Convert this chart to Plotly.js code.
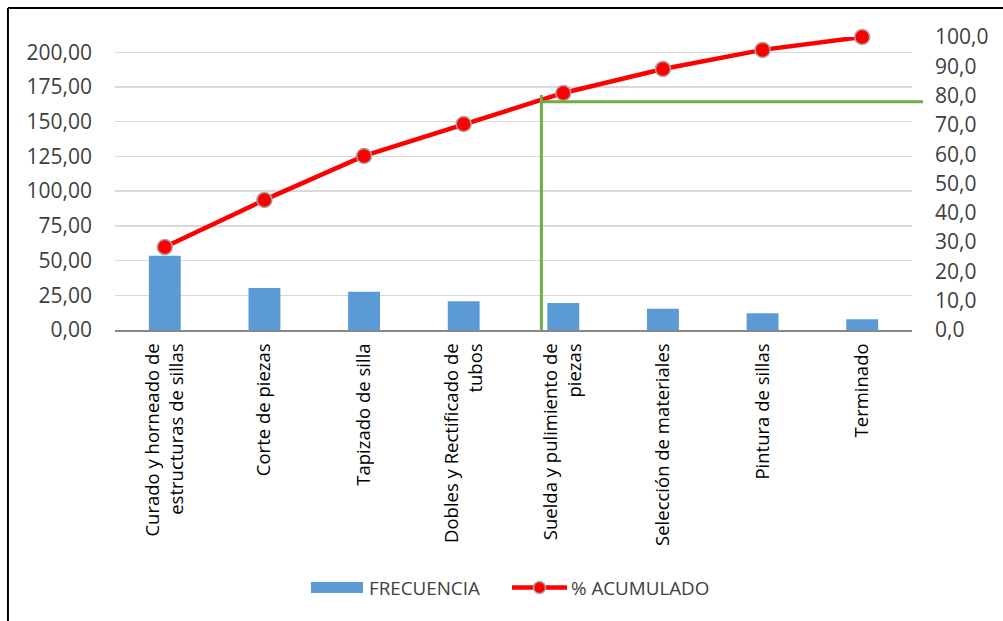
<!DOCTYPE html>
<html><head><meta charset="utf-8">
<script src="https://cdn.plot.ly/plotly-3.0.1.min.js"></script>
<style>html,body{margin:0;padding:0;background:#fff;}#chart{width:1003px;height:621px;}</style>
</head><body><div id="chart"></div>
<script>
const categories = [
  "Curado y horneado de<br>estructuras de sillas",
  "Corte de piezas",
  "Tapizado de silla",
  "Dobles y Rectificado de<br>tubos",
  "Suelda y pulimiento de<br>piezas",
  "Selección de materiales",
  "Pintura de sillas",
  "Terminado"
];
const frecuencia = [53.5, 30.3, 27.6, 20.7, 19.5, 15.3, 12.0, 7.7];
const acumulado = [28.3, 44.4, 59.4, 70.3, 80.9, 89.1, 95.6, 100.0];
const leftTicks = [0, 25, 50, 75, 100, 125, 150, 175, 200];
const leftTickText = ["0,00","25,00","50,00","75,00","100,00","125,00","150,00","175,00","200,00"];
const rightTicks = [0,10,20,30,40,50,60,70,80,90,100];
const rightTickText = ["0,0","10,0","20,0","30,0","40,0","50,0","60,0","70,0","80,0","90,0","100,0"];
const seriesNames = ["FRECUENCIA", "% ACUMULADO"];
const cutoffCategoryPos = 3.78;   // green pareto marker, category units
const cutoffTop = 80.2;
const cutoffLevel = 77.9;

const font = "Open Sans, Liberation Sans, sans-serif";
const blue = "#5b9bd5", red = "#ff0000", green = "#70ad47";
const trBar = {
  type: "bar", name: seriesNames[0], x: categories, y: frecuencia,
  marker: {color: blue}, width: 0.32, yaxis: "y", showlegend: false
};
const trLine = {
  type: "scatter", mode: "lines+markers", name: seriesNames[1], x: categories, y: acumulado,
  line: {color: red, width: 4.5}, cliponaxis: false,
  marker: {color: red, size: 15, line: {color: "#a6a6a6", width: 1.5}},
  yaxis: "y2", showlegend: false
};
// legend geometry (paper coords)
const px = v => (v - 115) / 797;
const py = v => (330 - v) / 293;
const legY = py(587.5);
const layout = {
  width: 1003, height: 621,
  margin: {l: 115, r: 91, t: 37, b: 291},
  paper_bgcolor: "#ffffff", plot_bgcolor: "#ffffff",
  font: {family: font, size: 19, color: "#000000"},
  showlegend: false,
  xaxis: {
    type: "category", tickangle: -90, showgrid: false, zeroline: false,
    showline: true, linecolor: "#888888", linewidth: 2, ticks: "",
    tickfont: {family: font, size: 18.5, color: "#000000"}, range: [-0.5, 7.5], ticklabelstandoff: 4
  },
  yaxis: {
    range: [0, 211], tickvals: leftTicks, ticktext: leftTickText,
    showgrid: true, gridcolor: "#d9d9d9", gridwidth: 1.5, zeroline: false, showline: false,
    tickfont: {family: font, size: 21, color: "#404040"}, ticks: "", ticklabelstandoff: 22
  },
  yaxis2: {
    range: [0, 100], overlaying: "y", side: "right", tickvals: rightTicks, ticktext: rightTickText,
    showgrid: false, zeroline: false, showline: false,
    tickfont: {family: font, size: 21, color: "#404040"}, ticks: "", ticklabelstandoff: 22
  },
  shapes: [
    {type: "line", xref: "x", yref: "y2", x0: cutoffCategoryPos, x1: cutoffCategoryPos, y0: 0, y1: cutoffTop,
     line: {color: green, width: 3}, layer: "above"},
    {type: "line", xref: "paper", yref: "y2", x0: (cutoffCategoryPos + 0.5) / 8, x1: 1.0138, y0: cutoffLevel, y1: cutoffLevel,
     line: {color: green, width: 3}, layer: "above"},
    {type: "line", xref: "paper", yref: "paper", x0: -0.1343, x1: -0.1343, y0: -1.2, y1: 1.099,
     line: {color: "#000000", width: 2}},
    {type: "line", xref: "paper", yref: "paper", x0: -0.1343, x1: 1.2, y0: 1.099, y1: 1.099,
     line: {color: "#000000", width: 2}},
    // custom legend swatches
    {type: "rect", xref: "paper", yref: "paper", x0: px(311), x1: px(363), y0: py(582), y1: py(593),
     fillcolor: blue, line: {width: 0}},
    {type: "line", xref: "paper", yref: "paper", x0: px(512), x1: px(567), y0: legY, y1: legY,
     line: {color: red, width: 4.5}},
    {type: "circle", xref: "paper", yref: "paper", xsizemode: "pixel", ysizemode: "pixel",
     xanchor: px(539.5), yanchor: legY, x0: -6, x1: 6, y0: -6, y1: 6,
     fillcolor: red, line: {color: "#a6a6a6", width: 1.5}}
  ],
  annotations: [
    {xref: "paper", yref: "paper", x: px(367), y: legY, xanchor: "left", yanchor: "middle",
     text: seriesNames[0], showarrow: false, font: {family: font, size: 18.8, color: "#404040"}},
    {xref: "paper", yref: "paper", x: px(569), y: legY, xanchor: "left", yanchor: "middle",
     text: seriesNames[1], showarrow: false, font: {family: font, size: 18.8, color: "#404040"}}
  ]
};
Plotly.newPlot("chart", [trBar, trLine], layout, {displayModeBar: false, staticPlot: true});
</script></body></html>
